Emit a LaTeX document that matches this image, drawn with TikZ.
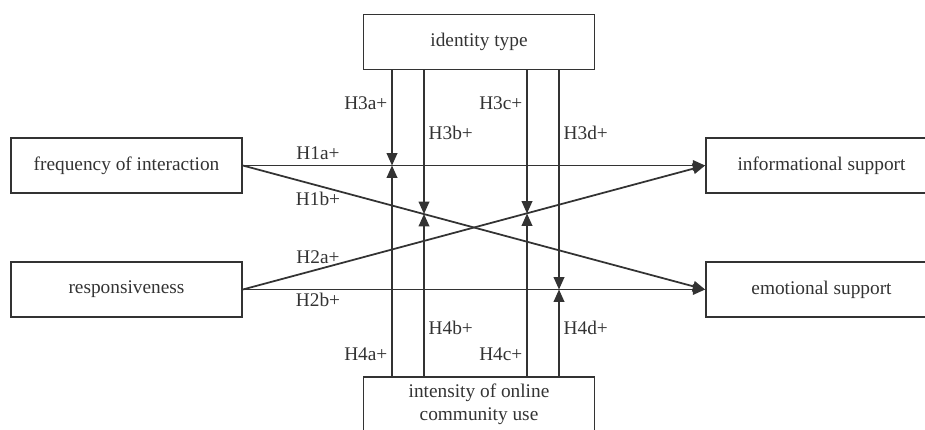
\documentclass[tikz,border=0pt]{standalone}
\usepackage{fontspec}
\setmainfont{Liberation Serif}
\usetikzlibrary{arrows.meta}

\begin{document}
\begin{tikzpicture}[x=0.02cm,y=-0.02cm,line width=1pt,black!80,
    every node/.style={font=\fontsize{11}{13}\selectfont},
    box/.style={draw, rectangle, minimum width=4.62cm, minimum height=1.1cm, align=center},
    hlab/.style={inner sep=1pt},
    arr/.style={-{Triangle[length=7pt,width=6pt]}}]
    \useasboundingbox (0,0) rectangle (925,429);

    \node[box] (idtype) at (479,42) {identity type};
    \node[box] (freq) at (126.5,165.5) {frequency of interaction};
    \node[box] (resp) at (126.5,289.5) {responsiveness};
    \node[box] (info) at (821.5,165.5) {informational support};
    \node[box] (emo) at (821.5,289.5) {emotional support};
    \node[box] (use) at (479,404.5) {intensity of online\\community use};

    \coordinate (p3a) at (392,165.5);
    \coordinate (p3b) at (424,214);
    \coordinate (p3c) at (527,213.5);
    \coordinate (p3d) at (559,289.5);

    \draw[arr] (freq.east) -- (info.west);
    \draw[arr] (freq.east) -- (emo.west);
    \draw[arr] (resp.east) -- (info.west);
    \draw[arr] (resp.east) -- (emo.west);

    \draw[arr] (idtype.south -| p3a) -- (p3a);
    \draw[arr] (idtype.south -| p3b) -- (p3b);
    \draw[arr] (idtype.south -| p3c) -- (p3c);
    \draw[arr] (idtype.south -| p3d) -- (p3d);
    \draw[arr] (use.north -| p3a) -- (p3a);
    \draw[arr] (use.north -| p3b) -- (p3b);
    \draw[arr] (use.north -| p3c) -- (p3c);
    \draw[arr] (use.north -| p3d) -- (p3d);

    \node (l1a) at (318,153) {H1a+};
    \node (l1b) at (318,199) {H1b+};
    \node (l2a) at (318,257) {H2a+};
    \node (l2b) at (318,300) {H2b+};
    \node[hlab,anchor=east] (l3a) at (390,103) {H3a+};
    \node[hlab,anchor=west] (l3b) at (426,133) {H3b+};
    \node[hlab,anchor=east] (l3c) at (525,103) {H3c+};
    \node[hlab,anchor=west] (l3d) at (561,133) {H3d+};
    \node[hlab,anchor=east] (l4a) at (390,354) {H4a+};
    \node[hlab,anchor=west] (l4b) at (426,328) {H4b+};
    \node[hlab,anchor=east] (l4c) at (525,354) {H4c+};
    \node[hlab,anchor=west] (l4d) at (561,328) {H4d+};

\end{tikzpicture}
\end{document}
